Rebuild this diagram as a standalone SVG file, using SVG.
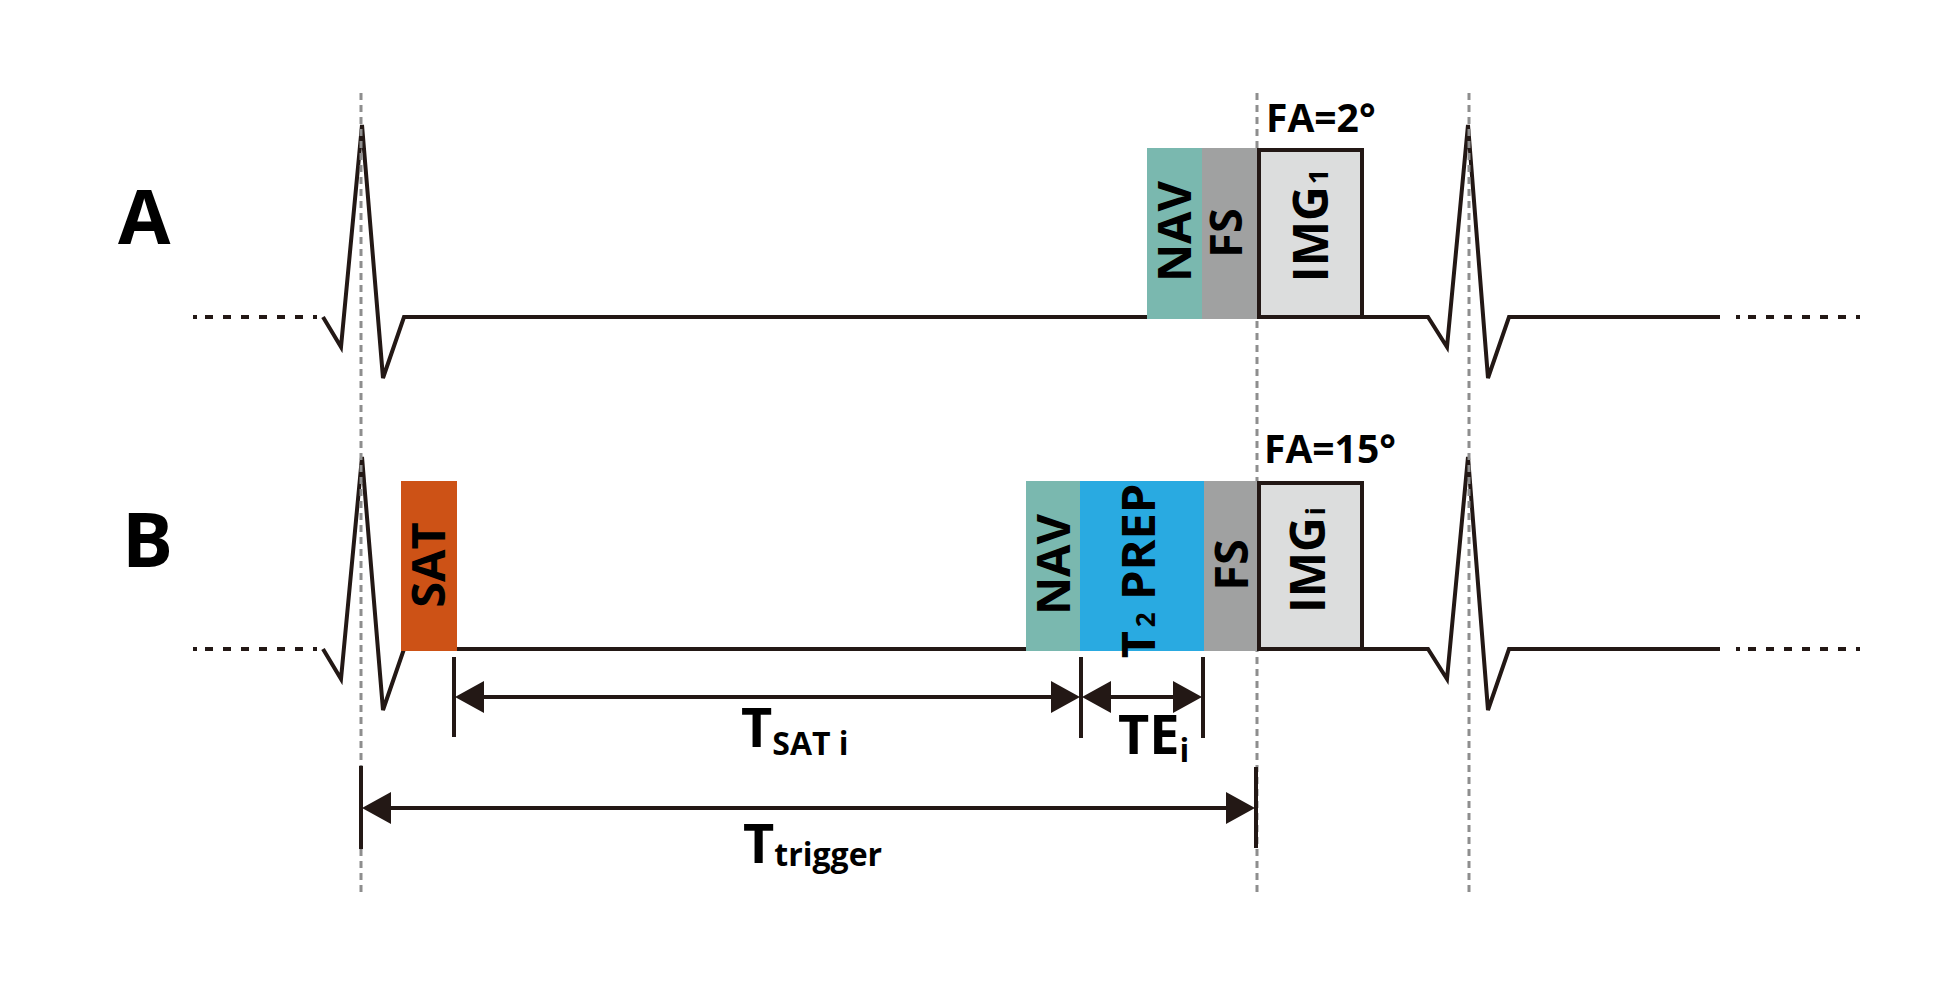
<svg xmlns="http://www.w3.org/2000/svg" width="1942" height="993" viewBox="0 0 1942 993">
<style>
.ln{fill:none;stroke:#231815;stroke-width:4;stroke-linejoin:miter}
.dot{fill:none;stroke:#231815;stroke-width:4;stroke-dasharray:4 8 8 10 8 10 8 10 8 10 8 10 8 10 4 20}
.grid{fill:none;stroke:#8e8e8e;stroke-width:3;stroke-dasharray:7 5}
.t{font-family:"Open Sans","Liberation Sans",sans-serif;font-weight:bold;fill:#000}
.rt{font-family:"Open Sans","Liberation Sans",sans-serif;font-weight:bold;fill:#000;text-anchor:middle}
.tick{stroke:#231815;stroke-width:4}
.ah{fill:#231815}
</style>
<rect width="1942" height="993" fill="#fff"/>

<g id="ecg">
  <line class="dot" x1="193" y1="317" x2="317" y2="317"/>
  <path class="ln" d="M323 317 L341 347 L362 125 L383 378 L404 317 L1428 317 L1447 347 L1468 125 L1488 378 L1509 317 L1720 317"/>
  <line class="dot" x1="1736" y1="317" x2="1860" y2="317"/>
  <line class="dot" x1="193" y1="649" x2="317" y2="649"/>
  <path class="ln" d="M323 649 L341 679 L362 457 L383 710 L404 649 L1428 649 L1447 679 L1468 457 L1488 710 L1509 649 L1720 649"/>
  <line class="dot" x1="1736" y1="649" x2="1860" y2="649"/>
</g>

<g id="guides">
  <line class="grid" x1="361" y1="93" x2="361" y2="896"/>
  <line class="grid" x1="1257" y1="93" x2="1257" y2="896"/>
  <line class="grid" x1="1469" y1="93" x2="1469" y2="896"/>
</g>

<g id="labels">
  <text class="t" x="118" y="244" font-size="76">A</text>
  <text class="t" x="122" y="567" font-size="76">B</text>
</g>

<g id="nav-a">
  <rect x="1147" y="148" width="55" height="171" fill="#7AB8AF"/>
  <text class="rt" font-size="47" transform="translate(1191 231.5) rotate(-90)">NAV</text>
</g>
<g id="fs-a">
  <rect x="1202" y="148" width="55" height="171" fill="#A0A1A1"/>
  <text class="rt" font-size="45" transform="translate(1242 233) rotate(-90)">FS</text>
</g>
<g id="img-a">
  <rect x="1259" y="150" width="103" height="167" fill="#DCDDDD" stroke="#231815" stroke-width="4"/>
  <text class="rt" font-size="48" transform="translate(1328 225.5) rotate(-90)">IMG<tspan font-size="27" dx="2">1</tspan></text>
</g>
<g id="fa-a">
  <text class="t" x="1266" y="132" font-size="39">FA=2°</text>
</g>

<g id="sat-b">
  <rect x="401" y="481" width="56" height="170" fill="#CD5216"/>
  <text class="rt" font-size="47" transform="translate(445 565) rotate(-90)">SAT</text>
</g>
<g id="nav-b">
  <rect x="1026" y="481" width="54" height="170" fill="#7AB8AF"/>
  <text class="rt" font-size="47" transform="translate(1070 564.5) rotate(-90)">NAV</text>
</g>
<g id="t2prep-b">
  <rect x="1080" y="481" width="124" height="170" fill="#29AAE1"/>
  <text class="rt" font-size="47" transform="translate(1155 571) rotate(-90)">T<tspan font-size="26" dx="4">2</tspan> PREP</text>
</g>
<g id="fs-b">
  <rect x="1204" y="481" width="53" height="170" fill="#A0A1A1"/>
  <text class="rt" font-size="47" transform="translate(1248 565) rotate(-90)">FS</text>
</g>
<g id="img-b">
  <rect x="1259" y="483" width="103" height="166" fill="#DCDDDD" stroke="#231815" stroke-width="4"/>
  <text class="rt" font-size="48" transform="translate(1325 560) rotate(-90)">IMG<tspan font-size="27" dx="2">i</tspan></text>
</g>
<g id="fa-b">
  <text class="t" x="1264" y="463" font-size="39">FA=15°</text>
</g>

<g id="connectors">
  <line class="tick" x1="454" y1="657" x2="454" y2="737"/>
  <line class="tick" x1="1081" y1="657" x2="1081" y2="738"/>
  <line class="tick" x1="1203" y1="657" x2="1203" y2="738"/>
  <line class="tick" x1="361" y1="766" x2="361" y2="849"/>
  <line class="tick" x1="1256" y1="767" x2="1256" y2="848"/>
  <line class="tick" x1="470" y1="697" x2="1065" y2="697"/>
  <polygon class="ah" points="455,697 484,681 484,713"/>
  <polygon class="ah" points="1080,697 1051,681 1051,713"/>
  <line class="tick" x1="1097" y1="697" x2="1187" y2="697"/>
  <polygon class="ah" points="1082,697 1111,681 1111,713"/>
  <polygon class="ah" points="1202,697 1173,681 1173,713"/>
  <line class="tick" x1="377" y1="808" x2="1240" y2="808"/>
  <polygon class="ah" points="362,808 391,792 391,824"/>
  <polygon class="ah" points="1255,808 1226,792 1226,824"/>
</g>

<g id="dim-labels">
  <text class="t" x="741" y="747" font-size="54">T<tspan font-size="32" dy="8">SAT i</tspan></text>
  <text class="t" x="1118" y="754" font-size="54">TE<tspan font-size="32" dy="8">i</tspan></text>
  <text class="t" x="743" y="863" font-size="54">T<tspan font-size="32" dy="3">trigger</tspan></text>
</g>
</svg>
